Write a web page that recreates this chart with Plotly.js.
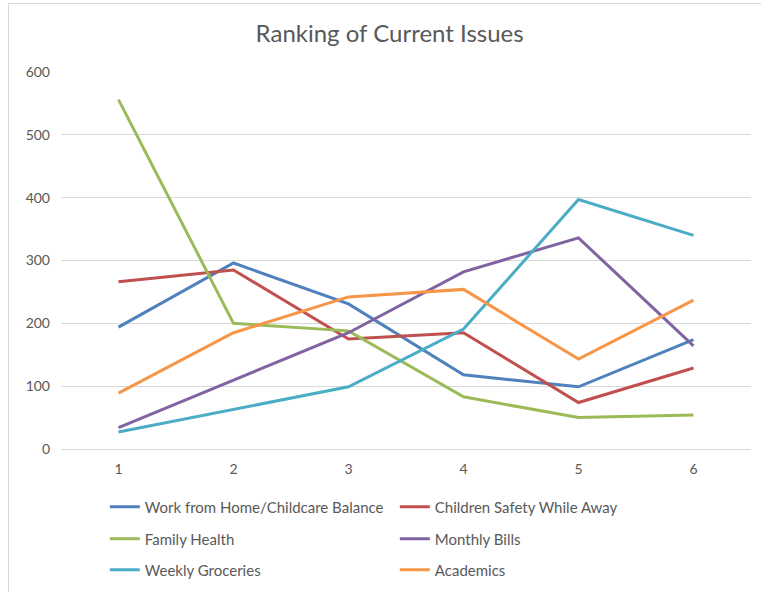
<!DOCTYPE html>
<html>
<head>
<meta charset="utf-8">
<script src="https://cdn.plot.ly/plotly-3.0.1.min.js"></script>
<style>
  html, body { margin: 0; padding: 0; background: #ffffff; }
  #wrap { position: relative; width: 761px; height: 592px; }
  #chart { width: 761px; height: 592px; }
  #frame { position: absolute; left: 8px; top: 3px; width: 760px; height: 600px;
           border: 1px solid #d9d9d9; box-sizing: border-box; pointer-events: none; }
</style>
</head>
<body>
<div id="wrap">
  <div id="chart"></div>
  <div id="frame"></div>
</div>
<script>
// Ranks 1-6 and the weighted count for each issue
const ranks = [1, 2, 3, 4, 5, 6];
const workFromHome = [194, 296, 231, 118, 99, 174];
const childrenSafety = [266, 285, 175, 185, 74, 129];
const familyHealth = [556, 200, 188, 83, 50, 54];
const monthlyBills = [34, 110, 185, 282, 336, 164];
const weeklyGroceries = [27, 63, 99, 191, 397, 340];
const academics = [89, 185, 242, 254, 143, 237];

const seriesNames = [
  'Work from Home/Childcare Balance',
  'Children Safety While Away',
  'Family Health',
  'Monthly Bills',
  'Weekly Groceries',
  'Academics'
];
const seriesValues = [workFromHome, childrenSafety, familyHealth, monthlyBills, weeklyGroceries, academics];
const seriesColors = ['#4f81bd', '#c0504d', '#9bbb59', '#8064a2', '#4bacc6', '#f79646'];
// two legend entries per row, three rows
const legendIds = ['legend', 'legend', 'legend2', 'legend2', 'legend3', 'legend3'];

const FONT = 'Lato, "Open Sans", sans-serif';
const GREY = '#595959';

const traces = seriesNames.map((name, i) => ({
  type: 'scatter',
  mode: 'lines',
  name: name,
  x: ranks,
  y: seriesValues[i],
  line: { color: seriesColors[i], width: 3 },
  legend: legendIds[i]
}));

function legendRow(y) {
  return {
    orientation: 'h',
    x: 0.0635, xanchor: 'left',
    y: y, yanchor: 'middle',
    entrywidth: 245, entrywidthmode: 'pixels',
    font: { family: FONT, size: 15, color: GREY },
    bgcolor: 'rgba(0,0,0,0)',
    traceorder: 'normal'
  };
}

const layout = {
  width: 761,
  height: 592,
  paper_bgcolor: '#ffffff',
  plot_bgcolor: '#ffffff',
  margin: { l: 61, r: 10, t: 72, b: 143, autoexpand: false },
  title: {
    text: 'Ranking of Current Issues',
    font: { family: FONT, size: 24, color: GREY },
    x: 0.512, xanchor: 'center',
    y: 0.943, yanchor: 'middle'
  },
  xaxis: {
    type: 'linear',
    range: [0.5, 6.5],
    tickvals: ranks,
    ticktext: ranks.map(String),
    showgrid: false,
    zeroline: false,
    showline: false,
    ticks: '',
    ticklabelstandoff: 10,
    tickfont: { family: FONT, size: 14, color: GREY },
    fixedrange: true
  },
  yaxis: {
    range: [0, 600],
    dtick: 100,
    showgrid: true,
    gridcolor: '#d9d9d9',
    gridwidth: 1,
    zeroline: true,
    zerolinecolor: '#d9d9d9',
    zerolinewidth: 1,
    showline: false,
    ticks: '',
    ticklabelstandoff: 10,
    tickfont: { family: FONT, size: 14, color: GREY },
    fixedrange: true
  },
  showlegend: true,
  legend: legendRow(-0.154),
  legend2: legendRow(-0.239),
  legend3: legendRow(-0.321)
};

Plotly.newPlot('chart', traces, layout, { displayModeBar: false, staticPlot: true });
</script>
</body>
</html>
